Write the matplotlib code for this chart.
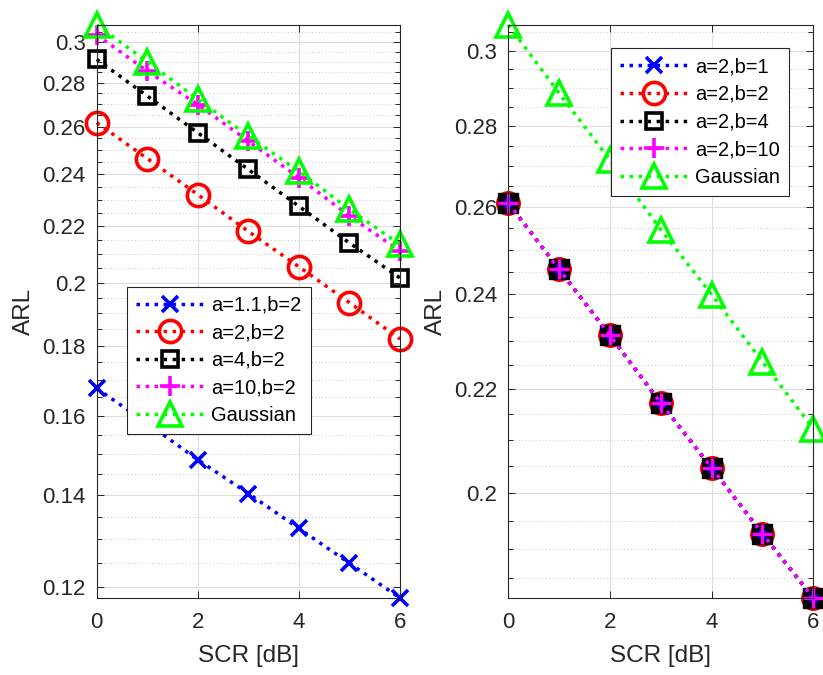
import matplotlib as mp
mp.use("Agg")
import matplotlib.pyplot as plot
from matplotlib.lines import Line2D
from matplotlib.ticker import FixedLocator, FixedFormatter, NullFormatter
import numpy as np

# SCR axis (dB)
scr = [0, 1, 2, 3, 4, 5, 6]

# left panel: b = 2, shape a varies
left_labels = ["a=1.1,b=2", "a=2,b=2", "a=4,b=2", "a=10,b=2", "Gaussian"]
arl_a1p1 = [0.1675, 0.1580, 0.1486, 0.1404, 0.1324, 0.1249, 0.1178]
arl_a2 = [0.2618, 0.2465, 0.2320, 0.2181, 0.2055, 0.1935, 0.1820]
arl_a4 = [0.2912, 0.2738, 0.2574, 0.2420, 0.2275, 0.2139, 0.2017]
arl_a10 = [0.3034, 0.2855, 0.2699, 0.2538, 0.2387, 0.2238, 0.2110]
arl_gauss_l = [0.3085, 0.2901, 0.2723, 0.2560, 0.2413, 0.2263, 0.2134]

# right panel: a = 2, b varies
right_labels = ["a=2,b=1", "a=2,b=2", "a=2,b=4", "a=2,b=10", "Gaussian"]
arl_b1 = [0.2609, 0.2455, 0.2311, 0.2172, 0.2047, 0.1927, 0.1817]
arl_b2 = [0.2609, 0.2455, 0.2311, 0.2172, 0.2047, 0.1927, 0.1817]
arl_b4 = [0.2609, 0.2455, 0.2311, 0.2172, 0.2047, 0.1927, 0.1817]
arl_b10 = [0.2609, 0.2455, 0.2311, 0.2172, 0.2047, 0.1927, 0.1817]
arl_gauss_r = [0.3071, 0.2885, 0.2714, 0.2546, 0.2399, 0.2256, 0.2122]

x_ticks = [0, 2, 4, 6]
left_yticks = [0.12, 0.14, 0.16, 0.18, 0.2, 0.22, 0.24, 0.26, 0.28, 0.3]
right_yticks = [0.2, 0.22, 0.24, 0.26, 0.28, 0.3]

axes_color = "#262626"
mp.rcParams.update({
    "font.family": ["Liberation Sans", "DejaVu Sans"],
    "axes.linewidth": 0.8,
    "axes.edgecolor": axes_color,
})

lw_line = 2.5
ls_dot = (0, (1, 1.6))
mew = 2.6

# open marker styles (left panel and both legends)
open_styles = [
    dict(color="blue", marker="x", ms=11, mew=mew),
    dict(color="red", marker="o", ms=16, mew=mew, mfc="none"),
    dict(color="black", marker="s", ms=12, mew=mew, mfc="none"),
    dict(color="magenta", marker="+", ms=15, mew=mew),
    dict(color="#00ff00", marker="^", ms=17, mew=mew, mfc="none"),
]

# filled marker styles for the right panel
filled_styles = [
    dict(color="blue", marker="x", ms=6, mew=1.8, zorder=3.3),
    dict(color="red", marker="o", ms=17, mew=1, mfc="red", zorder=3.1),
    dict(color="black", marker="s", ms=14.5, mew=1, mfc="black", zorder=3.2),
    dict(color="magenta", marker="+", ms=14, mew=2.4, zorder=3.4),
    dict(color="#00ff00", marker="^", ms=17, mew=mew, mfc="none", zorder=3.5),
]

fig = plot.figure(figsize=(8.23, 6.75), dpi=100)
ax1 = fig.add_axes([0.1175, 0.1141, 0.3685, 0.8489])
ax2 = fig.add_axes([0.6176, 0.1141, 0.3706, 0.8489])


def style_axes(ax, yticks, series):
    lo = min(min(s) for s in series)
    hi = max(max(s) for s in series)
    ax.set_yscale("log")
    ax.set_xlim(0, 6)
    ax.set_ylim(lo, hi)
    ax.xaxis.set_major_locator(FixedLocator(x_ticks))
    ax.xaxis.set_major_formatter(FixedFormatter([str(t) for t in x_ticks]))
    ax.yaxis.set_major_locator(FixedLocator(yticks))
    ax.yaxis.set_major_formatter(FixedFormatter(["%g" % t for t in yticks]))
    minor = np.round(np.arange(0.105, 0.315, 0.005), 3)
    minor = [m for m in minor if lo <= m <= hi and not np.isclose(m, yticks).any()]
    ax.yaxis.set_minor_locator(FixedLocator(minor))
    ax.yaxis.set_minor_formatter(NullFormatter())
    ax.xaxis.set_minor_locator(FixedLocator([]))
    ax.grid(True, which="major", color="#dedede", linewidth=0.8, linestyle="-")
    ax.grid(True, which="minor", axis="y", color="#c6c6c6", linewidth=0.7,
            linestyle=(0, (1, 2.5)))
    ax.set_axisbelow(True)
    ax.tick_params(which="both", direction="in", top=True, right=True,
                   color=axes_color, labelcolor=axes_color, width=0.7)
    ax.tick_params(which="major", length=5, labelsize=16)
    ax.tick_params(axis="y", which="major", pad=8)
    ax.tick_params(axis="x", which="major", pad=10)
    ax.tick_params(which="minor", length=3.5)
    for sp in ax.spines.values():
        sp.set_zorder(10)
    ax.set_xlabel("SCR [dB]", fontsize=17.5, color=axes_color)
    ax.set_ylabel("ARL", fontsize=17.5, color=axes_color)


# left panel
left_series = [arl_a1p1, arl_a2, arl_a4, arl_a10, arl_gauss_l]
for y, lab, st in zip(left_series, left_labels, open_styles):
    ax1.plot(scr, y, linestyle=ls_dot, linewidth=lw_line, label=lab,
             clip_on=False, zorder=3, **st)
style_axes(ax1, left_yticks, left_series)
ax1.xaxis.set_label_coords(0.5, -0.082)
ax1.yaxis.set_label_coords(-0.205, 0.5)

# right panel
right_series = [arl_b1, arl_b2, arl_b4, arl_b10, arl_gauss_r]
for y, st in zip(right_series, filled_styles):
    ax2.plot(scr, y, linestyle=ls_dot, linewidth=lw_line, clip_on=False, **st)
style_axes(ax2, right_yticks, right_series)
ax2.xaxis.set_label_coords(0.5, -0.082)
ax2.yaxis.set_label_coords(-0.2, 0.5)

legend_kw = dict(loc="upper left", bbox_transform=fig.transFigure,
                 borderaxespad=0, fontsize=14.4, handlelength=3.4,
                 handletextpad=0.35, labelspacing=0.43, borderpad=0.45,
                 fancybox=False, framealpha=1, edgecolor=axes_color)

leg1 = ax1.legend(bbox_to_anchor=(0.1547, 0.5753), **legend_kw)
leg1.get_frame().set_linewidth(0.8)
leg1.set_zorder(20)

proxies = [Line2D([], [], linestyle=ls_dot, linewidth=lw_line, **st)
           for st in open_styles]
leg2 = ax2.legend(proxies, right_labels, bbox_to_anchor=(0.7424, 0.9284), **legend_kw)
leg2.get_frame().set_linewidth(0.8)
leg2.set_zorder(20)

plot.savefig("out.png", dpi=100)
